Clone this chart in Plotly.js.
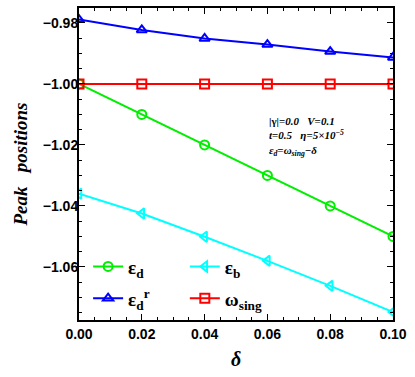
<!DOCTYPE html>
<html>
<head>
<meta charset="utf-8">
<script src="https://cdn.plot.ly/plotly-3.0.1.min.js"></script>
<style>
  html, body { margin: 0; padding: 0; background: #fff; }
  #chart { width: 415px; height: 377px; }
</style>
</head>
<body>
<div id="chart"></div>
<script>
  const delta = [0.00, 0.02, 0.04, 0.06, 0.08, 0.10]
  const epsD = [-1.000, -1.010, -1.020, -1.030, -1.040, -1.050]
  const epsDr = [-0.9789, -0.9823, -0.9851, -0.9871, -0.9894, -0.9913]
  const epsB = [-1.0360, -1.0425, -1.0501, -1.0580, -1.0662, -1.0748]
  const omegaSing = [-1.000, -1.000, -1.000, -1.000, -1.000, -1.000]

  const Plotly = window.Plotly
  const serif = 'Liberation Serif, Times New Roman, serif'

  function series(y, name, color, symbol, legend) {
    return {
      x: delta,
      y,
      name,
      legend,
      legendgroup: name,
      mode: 'lines+markers',
      type: 'scatter',
      line: { color, width: 2 },
      marker: { symbol, size: 9, color, line: { color, width: 2 } },
    }
  }

  // two legend columns: left = eps_d, eps_d^r ; right = eps_b, omega_sing
  const data = [
    series(epsD, '<b>ε<sub>d</sub></b>', '#00ee00', 'circle-open', 'legend'),
    series(epsDr, '<b>ε<sub>d</sub><sup>r</sup></b>', '#0000ff', 'triangle-up-open', 'legend'),
    series(epsB, '<b>ε<sub>b</sub></b>', '#00ffff', 'triangle-left-open', 'legend2'),
    series(omegaSing, '<b>ω<sub>sing</sub></b>', '#ff0000', 'square-open', 'legend2'),
  ]

  const axisCommon = {
    showline: true,
    linecolor: '#000',
    linewidth: 2,
    mirror: 'allticks',
    ticks: 'inside',
    ticklen: 6,
    tickwidth: 1,
    tickcolor: '#000',
    showgrid: false,
    zeroline: false,
    tickfont: { family: 'Liberation Sans, Arial, sans-serif', size: 14, color: '#000', weight: 'bold' },
  }

  const legendCommon = {
    orientation: 'v',
    xanchor: 'left',
    yanchor: 'top',
    bgcolor: 'rgba(0,0,0,0)',
    font: { family: serif, size: 19, color: '#000' },
    tracegroupgap: 4,
  }

  const layout = {
    width: 415,
    height: 377,
    margin: { l: 79, r: 22, t: 8, b: 57 },
    paper_bgcolor: '#fff',
    plot_bgcolor: '#fff',
    showlegend: true,
    xaxis: {
      ...axisCommon,
      range: [0, 0.1],
      dtick: 0.02,
      tickformat: '.2f',
      minor: { dtick: 0.005, ticks: 'inside', ticklen: 3, tickcolor: '#000' },
      title: { text: '<b><i>δ</i></b>', font: { family: serif, size: 20, color: '#000' }, standoff: 11 },
    },
    yaxis: {
      ...axisCommon,
      range: [-1.0774, -0.9751],
      dtick: 0.02,
      tick0: -1,
      tickformat: '.2f',
      ticklabelstandoff: -4,
      minor: { dtick: 0.005, ticks: 'inside', ticklen: 3, tickcolor: '#000' },
      title: { text: '<b><i>Peak\u00a0\u00a0\u00a0positions</i></b>', font: { family: serif, size: 19, color: '#000' }, standoff: 10 },
    },
    legend: { ...legendCommon, x: 0.029, y: 0.232 },
    legend2: { ...legendCommon, x: 0.337, y: 0.232 },
    annotations: [
      {
        xref: 'paper', yref: 'paper', x: 0.6, y: 0.665, xanchor: 'left', yanchor: 'top',
        align: 'left', showarrow: false,
        text: '<b>|γ|=<i>0.0</i>   <i>V</i>=<i>0.1</i><br><i>t</i>=<i>0.5</i>   <i>η</i>=<i>5×10<sup>−5</sup></i><br><i>ε<sub>d</sub></i>=<i>ω<sub>sing</sub></i>−<i>δ</i></b>',
        font: { family: serif, size: 11, color: '#000' },
      },
    ],
  }

  Plotly.newPlot('chart', data, layout, { staticPlot: true })
</script>
</body>
</html>
